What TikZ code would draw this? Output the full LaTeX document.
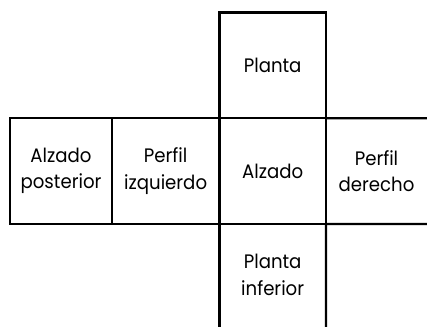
\documentclass[tikz,border=0pt]{standalone}
\usepackage{fontspec}
\setmainfont{Poppins}[FakeStretch=0.93]
\begin{document}
\begin{tikzpicture}[x=1pt,y=1pt,
  cell/.style={draw=black,line width=2.4pt,inner sep=0pt,outer sep=0pt,align=center,
    font=\fontsize{19.5}{26.3}\selectfont},
  label/.style={inner sep=0pt,outer sep=0pt,align=center,font=\fontsize{19.5}{26.3}\selectfont},
  edge/.style={draw=black,line width=2.4pt}]
\useasboundingbox (0,0) rectangle (427,326);
\clip (0,0) rectangle (427,326);
% cells
\node[cell,minimum width=106.7pt,minimum height=105.8pt] (planta) at (272.65,260.6) {Planta};
\node[cell,minimum width=106.7pt,minimum height=105.8pt] (alzado) at (272.65,154.85) {Alzado};
\node[cell,minimum width=107.3pt,minimum height=105.8pt] (perfilizq) at (165.65,154.85) {Perfil\\izquierdo};
\node[cell,minimum width=102pt,minimum height=105.8pt] (alzpost) at (61,154.85) {Alzado\\posterior};
\node[label] (perfilder) at (376.5,154.85) {Perfil\\derecho};
\node[label] (plantainf) at (272.65,51) {Planta\\inferior};
% open edges
\coordinate (rtop) at (430,207.7);
\coordinate (rbot) at (430,102);
\coordinate (bl) at (219.3,-4);
\coordinate (br) at (326,-4);
\draw[edge] (alzado.north east) -- (rtop);
\draw[edge] (alzado.south east) -- (rbot);
\draw[edge] (alzado.south west) -- (bl);
\draw[edge] (alzado.south east) -- (br);
\end{tikzpicture}
\end{document}
